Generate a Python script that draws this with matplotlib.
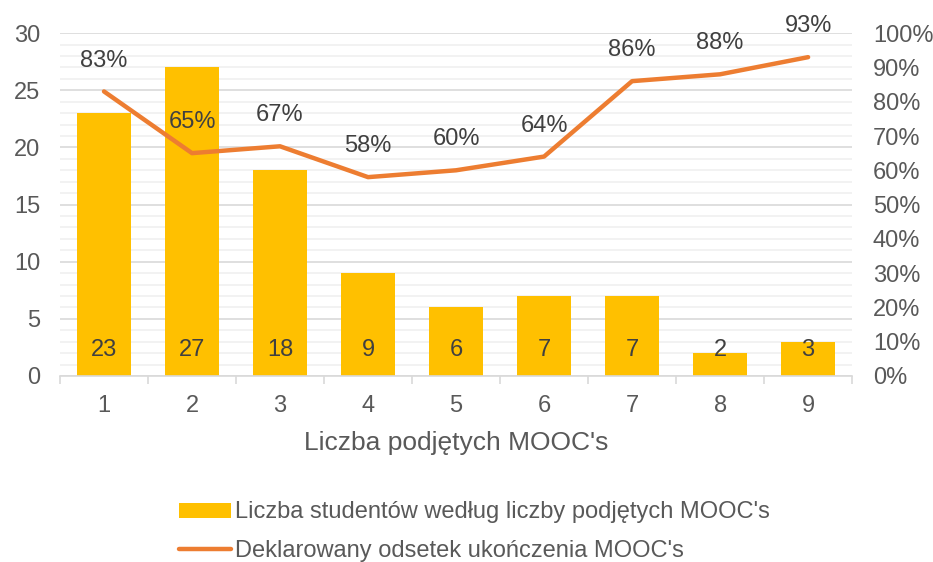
import matplotlib.pyplot as plt
import numpy as np

plt.rcParams['font.family'] = ['Liberation Sans', 'DejaVu Sans']

categories = ['1', '2', '3', '4', '5', '6', '7', '8', '9']
students = [23, 27, 18, 9, 6, 7, 7, 2, 3]
completion = [83, 65, 67, 58, 60, 64, 86, 88, 93]

text_c = '#595959'
bar_c = '#FFC000'
line_c = '#ED7D31'

fig = plt.figure(figsize=(9.33, 5.62), dpi=100)
ax = fig.add_axes([0.0643, 0.331, 0.849, 0.61])
x = np.arange(len(categories))

# gridlines: minor every 1, major every 5
for v in range(0, 31):
    if v % 5 == 0:
        ax.axhline(v, color='#D9D9D9', lw=1.2, zorder=0)
    else:
        ax.axhline(v, color='#F0F0F0', lw=1.2, zorder=0)

bars = ax.bar(x, students, width=0.61, color=bar_c, zorder=2,
              label="Liczba studentów według liczby podjętych MOOC's")
for xi, v in zip(x, students):
    ax.text(xi, 2.3, str(v), ha='center', va='center', fontsize=17,
            color='#404040', zorder=5)

ax.set_xlim(-0.5, len(categories) - 0.5)
ax.set_ylim(0, 30)
ax.set_yticks(range(0, 31, 5))
ax.set_xticks(x)
ax.set_xticklabels(categories)
ax.set_xticks(np.arange(-0.5, len(categories)), minor=True)
ax.tick_params(axis='x', which='major', length=0, pad=14, labelsize=17,
               labelcolor=text_c)
ax.tick_params(axis='x', which='minor', length=6, color='#D9D9D9', width=1.2)
ax.tick_params(axis='y', length=0, pad=14, labelsize=17, labelcolor=text_c)
for s in ['top', 'right', 'left']:
    ax.spines[s].set_visible(False)
ax.spines['bottom'].set_color('#D9D9D9')
ax.spines['bottom'].set_linewidth(1.2)
ax.set_xlabel("Liczba podjętych MOOC's", fontsize=19, color=text_c, labelpad=10)

ax2 = ax.twinx()
line, = ax2.plot(x, np.array(completion) / 100, color=line_c, lw=3.2,
                 solid_capstyle='round', zorder=4,
                 label="Deklarowany odsetek ukończenia MOOC's")
for xi, v in zip(x, completion):
    ax2.text(xi, v / 100 + 0.09, f'{v}%', ha='center', va='center',
             fontsize=17, color='#404040')
ax2.set_ylim(0, 1)
ax2.set_yticks(np.arange(0, 1.01, 0.1))
ax2.set_yticklabels([f'{int(round(t * 100))}%' for t in np.arange(0, 1.01, 0.1)])
ax2.tick_params(axis='y', length=0, pad=15, labelsize=17, labelcolor=text_c)
for s in ax2.spines.values():
    s.set_visible(False)

leg = fig.legend(handles=[bars, line], loc='center left',
                 bbox_to_anchor=(0.179, 0.054), frameon=False, fontsize=17,
                 labelcolor=text_c, handlelength=2.2, handleheight=0.6,
                 handletextpad=0.2, labelspacing=0.7, borderpad=0)

fig.savefig('out.png', dpi=100)
